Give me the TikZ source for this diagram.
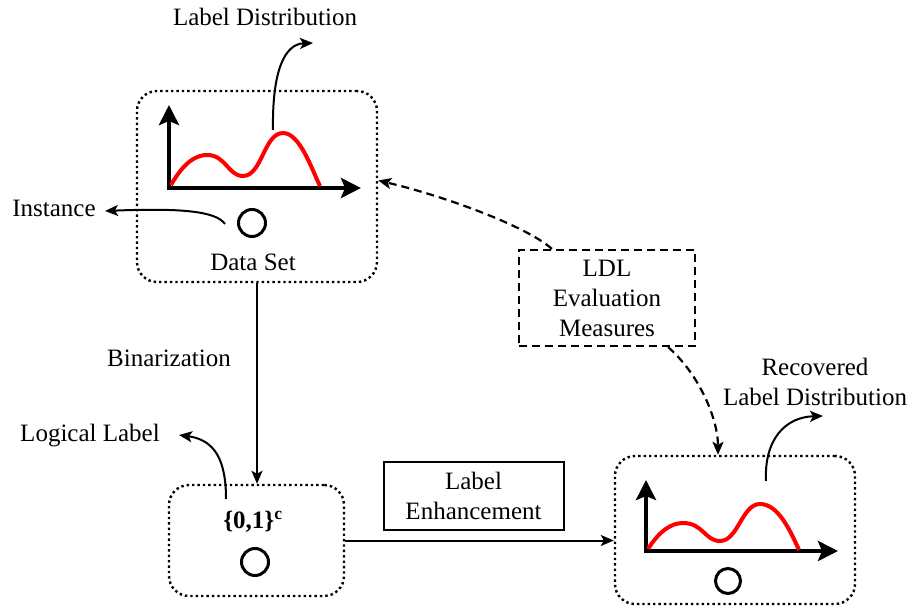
\documentclass[tikz,border=0pt]{standalone}
\usepackage{fontspec}
\setmainfont{Liberation Serif}
\usetikzlibrary{arrows.meta}
\begin{document}
\begin{tikzpicture}[x=1pt,y=-1pt,
  txt/.style={font=\fontsize{25}{29}\selectfont, inner sep=0pt},
  dotbox/.style={draw, line width=2.4pt, dash pattern=on 2.4pt off 3pt, rounded corners=20pt},
  plainbox/.style={draw, line width=2pt, font=\fontsize{25}{30}\selectfont, align=center, inner sep=0pt},
  dashbox/.style={draw, line width=2.2pt, dash pattern=on 8pt off 5pt, font=\fontsize{25}{30}\selectfont, align=center, inner sep=0pt},
  conn/.style={line width=2pt, -{Stealth[length=13pt,width=11pt,inset=3pt]}},
  dconn/.style={line width=2.2pt, dash pattern=on 8pt off 5pt, -{Stealth[length=13pt,width=11pt,inset=3pt]}},
  axis/.style={line width=4.5pt, -{Stealth[length=20pt,width=20pt,inset=4pt]}},
  curve/.style={red, line width=4pt},
  inst/.style={draw, circle, line width=3pt, minimum size=27pt, inner sep=0pt}]
\useasboundingbox (0,0) rectangle (909,609);

% boxes
\node[dotbox, minimum width=240pt, minimum height=191pt] (ds) at (257,186.5) {};
\node[dotbox, minimum width=175pt, minimum height=111pt] (lb) at (256.5,540.5) {};
\node[dotbox, minimum width=240pt, minimum height=148pt] (rec) at (735,530) {};
\node[plainbox, minimum width=180pt, minimum height=68pt] (le) at (473.5,496) {Label\\Enhancement};
\node[dashbox, minimum width=176pt, minimum height=96pt] (ldl) at (607,298) {LDL\\Evaluation\\Measures};

% data set contents
\draw[axis] (169,190) -- (169,105);
\draw[axis] (169,188) -- (361,188);
\draw[curve] (171,185) .. controls (185,160) and (198,155) .. (207,155)
  .. controls (226,155) and (228,176) .. (243,176)
  .. controls (262,176) and (264,133) .. (283,133)
  .. controls (300,133) and (312,170) .. (320,186);
\node[inst] (c1) at (252,223) {};
\node[txt] (dstxt) at (253,262) {Data Set};

% logical label box contents
\node[txt, font=\fontsize{25}{29}\selectfont\bfseries] (bin) at (253,522) {\{0,1\}\textsuperscript{c}};
\node[inst] (c2) at (255,562) {};

% recovered contents
\draw[axis] (646,553) -- (646,480);
\draw[axis] (644,551) -- (838,551);
\draw[curve] (648,549) .. controls (660,530) and (672,523) .. (683,523)
  .. controls (703,523) and (705,541) .. (720,541)
  .. controls (738,541) and (742,504) .. (760,504)
  .. controls (778,504) and (790,530) .. (799,550);
\node[inst, minimum size=25pt] (c3) at (728,581) {};

% text labels
\node[txt] (ldtxt) at (265,17) {Label Distribution};
\node[txt] (insttxt) at (54,208) {Instance};
\node[txt] (binz) at (169,358) {Binarization};
\node[txt] (lltxt) at (90,436) {Logical Label};
\node[txt, align=center, font=\fontsize{25}{30}\selectfont] (rectxt) at (815,382) {Recovered\\Label Distribution};

% coordinates for free ends
\coordinate (a1s) at (273,130);
\coordinate (a1e) at (313,43);
\coordinate (a2s) at (225,224);
\coordinate (a2e) at (105,211);
\coordinate (a3s) at (226,499);
\coordinate (a3e) at (179,435);
\coordinate (a4s) at (766,481);
\coordinate (a4e) at (823,416);

% connectors
\draw[conn] (a1s) .. controls (272,70) and (285,44) .. (a1e);
\draw[conn] (a2s) .. controls (216,211) and (180,208) .. (a2e);
\draw[conn] (a3s) .. controls (226,462) and (216,440) .. (a3e);
\draw[conn] (a4s) .. controls (764,440) and (785,417) .. (a4e);
\draw[conn] (ds.south) -- (ds.south |- lb.north);
\draw[conn] (lb.east) -- (lb.east -| rec.west);
\draw[dconn] ([xshift=34pt]ldl.north west) .. controls (525,225) and (440,195) .. ([yshift=6pt]ds.east);
\draw[dconn] ([xshift=-28pt]ldl.south east) .. controls (700,375) and (718,420) .. ([xshift=-17pt]rec.north);
\end{tikzpicture}
\end{document}
